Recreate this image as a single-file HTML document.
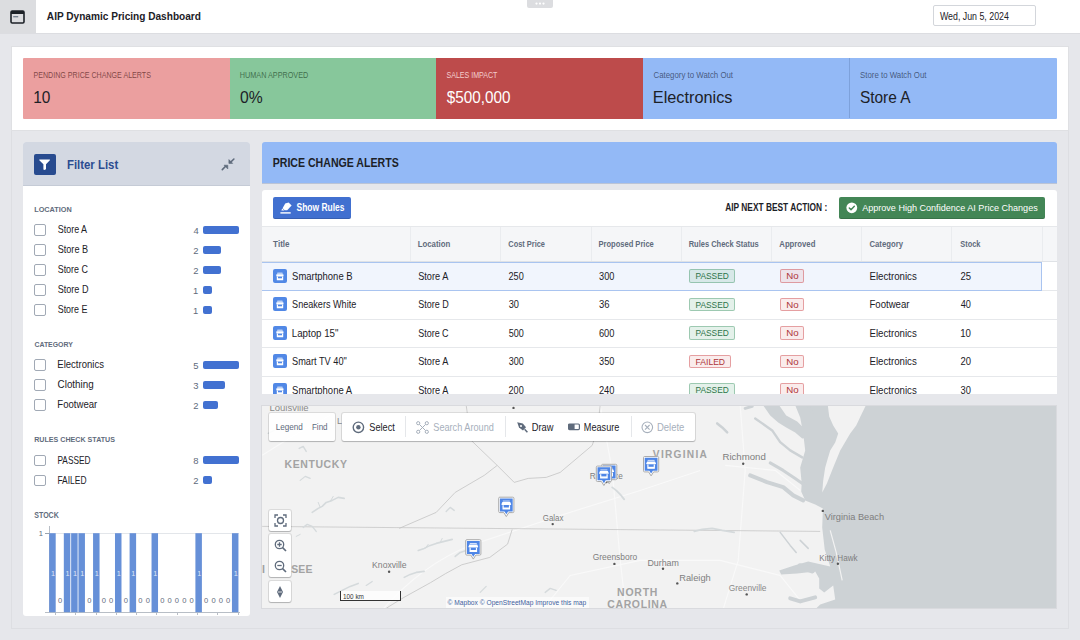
<!DOCTYPE html>
<html><head><meta charset="utf-8"><title>AIP Dynamic Pricing Dashboard</title><style>
*{margin:0;padding:0}
html,body{width:1080px;height:640px;overflow:hidden;background:#e6e7eb;font-family:"Liberation Sans",sans-serif;}
.r{position:absolute;}
svg{font-family:"Liberation Sans",sans-serif;}
svg.r{overflow:visible;}
</style></head><body>
<div class="r" style="left:0px;top:0px;width:1080.00px;height:33.50px;background:#fff;border-bottom:1px solid #dcdde1;box-sizing:border-box;"></div>
<div class="r" style="left:0px;top:0px;width:35.50px;height:33.00px;background:#dcdde0;"></div>
<svg class="r" style="left:10px;top:9.5px" width="15" height="14" viewBox="0 0 15 14"><rect x="1" y="1" width="13" height="12" rx="1.2" fill="none" stroke="#1c2127" stroke-width="1.6"/><rect x="1" y="1" width="13" height="3" fill="#1c2127"/><rect x="3.2" y="6.2" width="5" height="1.1" fill="#5f6b7c"/></svg>
<div class="r" style="left:527px;top:0px;width:26.00px;height:8.40px;background:#dcdde0;border-radius:0 0 2px 2px;"></div>
<svg class="r" style="left:527px;top:0px" width="26" height="8"><circle cx="9.5" cy="3.6" r="1.1" fill="#fff"/><circle cx="13" cy="3.6" r="1.1" fill="#fff"/><circle cx="16.5" cy="3.6" r="1.1" fill="#fff"/></svg>
<div class="r" style="left:932.5px;top:5.3px;width:103.10px;height:21.10px;background:#fff;border:1px solid #d3d6db;border-radius:2px;box-sizing:border-box;"></div>
<div class="r" style="left:11px;top:46px;width:1058.00px;height:85.00px;background:#fff;border:1px solid #dfe0e3;box-sizing:border-box;"></div>
<div class="r" style="left:23.3px;top:57.6px;width:206.30px;height:61.20px;background:#eb9f9f;border-radius:1px 0 0 1px;"></div>
<div class="r" style="left:229.6px;top:57.6px;width:206.40px;height:61.20px;background:#87c79b;"></div>
<div class="r" style="left:436px;top:57.6px;width:207.10px;height:61.20px;background:#bd4b4b;"></div>
<div class="r" style="left:643.1px;top:57.6px;width:206.50px;height:61.20px;background:#93b9f6;"></div>
<div class="r" style="left:849.6px;top:57.6px;width:207.40px;height:61.20px;background:#93b9f6;border-radius:0 1px 1px 0;"></div>
<div class="r" style="left:849.2px;top:57.6px;width:0.70px;height:60.90px;background:rgba(60,90,140,0.25);"></div>
<div class="r" style="left:11px;top:131px;width:1058.00px;height:498.00px;background:#e6e7eb;border:1px solid #dddee2;border-top:none;box-sizing:border-box;"></div>
<div class="r" style="left:23px;top:142.2px;width:227.30px;height:474.30px;background:#fff;border-radius:3px;"></div>
<div class="r" style="left:23px;top:142.2px;width:227.30px;height:44.10px;background:#d3d8e2;border-radius:3px 3px 0 0;border-bottom:1px solid #c5cbd6;box-sizing:border-box;"></div>
<div class="r" style="left:34.4px;top:153.8px;width:21.50px;height:21.20px;background:#284b8f;border-radius:2px;"></div>
<svg class="r" style="left:34.4px;top:153.8px" width="21.5" height="21.2" viewBox="0 0 21.5 21.2"><path d="M5.3 5.5 H15.9 V6.3 L12 10.3 V15.3 L10.3 16.1 Q9.4 15.7 9.4 15 V10.3 L5.3 6.3 Z" fill="#fff"/></svg>
<svg class="r" style="left:218px;top:154px" width="20" height="20" viewBox="0 0 20 20"><g fill="#5f6b7c" stroke="#5f6b7c" stroke-linejoin="round"><path d="M4.3 15.6 L7.6 12.3" stroke-width="1.6" stroke-linecap="round"/><path d="M6.0 11.2 H9.8 V15.0 Z" stroke-width="0.6"/><path d="M15.9 5.0 L12.6 8.3" stroke-width="1.6" stroke-linecap="round"/><path d="M10.9 5.6 V9.4 H14.7 Z" stroke-width="0.6"/></g></svg>
<div class="r" style="left:34.4px;top:224.4px;width:11.50px;height:11.30px;border:1px solid #a1a9b5;border-radius:2px;box-sizing:border-box;background:#fff;"></div>
<div class="r" style="left:203.4px;top:225.8px;width:35.30px;height:8.20px;background:#4271d1;border-radius:2px;"></div>
<div class="r" style="left:34.4px;top:244.4px;width:11.50px;height:11.30px;border:1px solid #a1a9b5;border-radius:2px;box-sizing:border-box;background:#fff;"></div>
<div class="r" style="left:203.4px;top:245.8px;width:17.65px;height:8.20px;background:#4271d1;border-radius:2px;"></div>
<div class="r" style="left:34.4px;top:264.4px;width:11.50px;height:11.30px;border:1px solid #a1a9b5;border-radius:2px;box-sizing:border-box;background:#fff;"></div>
<div class="r" style="left:203.4px;top:265.8px;width:17.65px;height:8.20px;background:#4271d1;border-radius:2px;"></div>
<div class="r" style="left:34.4px;top:284.4px;width:11.50px;height:11.30px;border:1px solid #a1a9b5;border-radius:2px;box-sizing:border-box;background:#fff;"></div>
<div class="r" style="left:203.4px;top:285.8px;width:8.82px;height:8.20px;background:#4271d1;border-radius:2px;"></div>
<div class="r" style="left:34.4px;top:304.4px;width:11.50px;height:11.30px;border:1px solid #a1a9b5;border-radius:2px;box-sizing:border-box;background:#fff;"></div>
<div class="r" style="left:203.4px;top:305.8px;width:8.82px;height:8.20px;background:#4271d1;border-radius:2px;"></div>
<div class="r" style="left:34.4px;top:359.4px;width:11.50px;height:11.30px;border:1px solid #a1a9b5;border-radius:2px;box-sizing:border-box;background:#fff;"></div>
<div class="r" style="left:203.4px;top:360.8px;width:35.30px;height:8.20px;background:#4271d1;border-radius:2px;"></div>
<div class="r" style="left:34.4px;top:379.4px;width:11.50px;height:11.30px;border:1px solid #a1a9b5;border-radius:2px;box-sizing:border-box;background:#fff;"></div>
<div class="r" style="left:203.4px;top:380.8px;width:21.18px;height:8.20px;background:#4271d1;border-radius:2px;"></div>
<div class="r" style="left:34.4px;top:399.4px;width:11.50px;height:11.30px;border:1px solid #a1a9b5;border-radius:2px;box-sizing:border-box;background:#fff;"></div>
<div class="r" style="left:203.4px;top:400.8px;width:14.12px;height:8.20px;background:#4271d1;border-radius:2px;"></div>
<div class="r" style="left:34.4px;top:454.8px;width:11.50px;height:11.30px;border:1px solid #a1a9b5;border-radius:2px;box-sizing:border-box;background:#fff;"></div>
<div class="r" style="left:203.4px;top:456.2px;width:35.30px;height:8.20px;background:#4271d1;border-radius:2px;"></div>
<div class="r" style="left:34.4px;top:474.8px;width:11.50px;height:11.30px;border:1px solid #a1a9b5;border-radius:2px;box-sizing:border-box;background:#fff;"></div>
<div class="r" style="left:203.4px;top:476.2px;width:8.82px;height:8.20px;background:#4271d1;border-radius:2px;"></div>
<div class="r" style="left:49.2px;top:533.2px;width:190.30px;height:0.70px;background:#e3e6ea;"></div>
<div class="r" style="left:45.3px;top:533.2px;width:3.90px;height:0.70px;background:#9aa3ae;"></div>
<div class="r" style="left:48.8px;top:525.6px;width:0.80px;height:87.00px;background:#b8bec6;"></div>
<div class="r" style="left:45px;top:612.1px;width:194.60px;height:0.80px;background:#b8bec6;"></div>
<svg class="r" style="left:0;top:0" width="260" height="640"><rect x="49.20" y="533.2" width="6.5" height="79" fill="#6690d8"/><rect x="63.82" y="533.2" width="6.5" height="79" fill="#6690d8"/><rect x="71.13" y="533.2" width="6.5" height="79" fill="#6690d8"/><rect x="78.44" y="533.2" width="6.5" height="79" fill="#6690d8"/><rect x="93.06" y="533.2" width="6.5" height="79" fill="#6690d8"/><rect x="114.99" y="533.2" width="6.5" height="79" fill="#6690d8"/><rect x="129.61" y="533.2" width="6.5" height="79" fill="#6690d8"/><rect x="151.54" y="533.2" width="6.5" height="79" fill="#6690d8"/><rect x="195.40" y="533.2" width="6.5" height="79" fill="#6690d8"/><rect x="231.95" y="533.2" width="6.5" height="79" fill="#6690d8"/></svg>
<div class="r" style="left:55.1px;top:612.6px;width:0.70px;height:2.90px;background:#b8bec6;"></div>
<div class="r" style="left:75.37px;top:612.6px;width:0.70px;height:2.90px;background:#b8bec6;"></div>
<div class="r" style="left:95.64px;top:612.6px;width:0.70px;height:2.90px;background:#b8bec6;"></div>
<div class="r" style="left:115.91px;top:612.6px;width:0.70px;height:2.90px;background:#b8bec6;"></div>
<div class="r" style="left:136.18px;top:612.6px;width:0.70px;height:2.90px;background:#b8bec6;"></div>
<div class="r" style="left:156.45px;top:612.6px;width:0.70px;height:2.90px;background:#b8bec6;"></div>
<div class="r" style="left:176.72px;top:612.6px;width:0.70px;height:2.90px;background:#b8bec6;"></div>
<div class="r" style="left:196.99px;top:612.6px;width:0.70px;height:2.90px;background:#b8bec6;"></div>
<div class="r" style="left:217.26px;top:612.6px;width:0.70px;height:2.90px;background:#b8bec6;"></div>
<div class="r" style="left:237.53px;top:612.6px;width:0.70px;height:2.90px;background:#b8bec6;"></div>
<div class="r" style="left:261.6px;top:142.2px;width:795.40px;height:40.60px;background:#93b9f6;border-radius:3px 3px 0 0;box-shadow:0 1px 0 rgba(60,90,150,0.25);"></div>
<div class="r" style="left:261.6px;top:190.3px;width:795.40px;height:203.45px;background:#fff;border-radius:3px 3px 0 0;"></div>
<div class="r" style="left:273.2px;top:197.2px;width:77.60px;height:21.60px;background:#4170d0;border-radius:2px;box-shadow:inset 0 -1px 0 rgba(0,0,0,0.15);"></div>
<svg class="r" style="left:279px;top:201px" width="14" height="14" viewBox="0 0 14 14"><path d="M6.2 2.6 L9.6 1.4 L12.6 4.4 L8.2 9.2 L5.6 9.2 L3.6 7.2 Z" fill="#fff"/><path d="M3.2 7.6 L5.4 9.6 L2.4 9.6 Z" fill="#fff"/><rect x="1.4" y="11.2" width="10.3" height="1.4" fill="#fff"/></svg>
<div class="r" style="left:838.5px;top:197.1px;width:206.30px;height:21.70px;background:#438656;border-radius:2px;box-shadow:inset 0 -1px 0 rgba(0,0,0,0.15);"></div>
<svg class="r" style="left:845.5px;top:202.2px" width="11.6" height="11.6" viewBox="0 0 12 12"><circle cx="6" cy="6" r="5.6" fill="#fff"/><path d="M3.4 6.2 L5.2 7.9 L8.6 4.4" fill="none" stroke="#438656" stroke-width="1.5" stroke-linecap="round" stroke-linejoin="round"/></svg>
<div class="r" style="left:261.6px;top:226.2px;width:795.40px;height:35.80px;background:#f5f6f8;border-top:1px solid #e6e8eb;border-bottom:1px solid #dfe2e6;box-sizing:border-box;"></div>
<div class="r" style="left:409.6px;top:227px;width:0;height:34px;border-left:1px solid #eaecef;"></div>
<div class="r" style="left:500px;top:227px;width:0;height:34px;border-left:1px solid #eaecef;"></div>
<div class="r" style="left:590.6px;top:227px;width:0;height:34px;border-left:1px solid #eaecef;"></div>
<div class="r" style="left:680.6px;top:227px;width:0;height:34px;border-left:1px solid #eaecef;"></div>
<div class="r" style="left:770.8px;top:227px;width:0;height:34px;border-left:1px solid #eaecef;"></div>
<div class="r" style="left:861px;top:227px;width:0;height:34px;border-left:1px solid #eaecef;"></div>
<div class="r" style="left:951.4px;top:227px;width:0;height:34px;border-left:1px solid #eaecef;"></div>
<div class="r" style="left:1041.5px;top:227px;width:0;height:34px;border-left:1px solid #eaecef;"></div>
<div class="r" style="left:261.6px;top:262px;width:795.4px;height:131.75px;overflow:hidden;">
<div class="r" style="left:0.00px;top:0.00px;width:780.40px;height:28.50px;background:#f1f5fd;border:1px solid #a9c4f0;border-left:none;box-sizing:border-box;"></div>
<div class="r" style="left:11.30px;top:6.80px;width:14.00px;height:14.10px;background:#5188e6;border-radius:2px;"></div>
<svg class="r" style="left:11.30px;top:6.80px" width="14" height="14" viewBox="0 0 14 14"><path d="M4.4 3.4 H9.4 L9.9 5.2 H3.9 Z" fill="#fff" opacity="0.6"/><rect x="3.3" y="5.2" width="7.2" height="2.2" rx="0.6" fill="#fff"/><path d="M4.4 7.4 V10.6 H9.6 V7.4" fill="none" stroke="#fff" stroke-width="1.2"/><rect x="4.4" y="9.3" width="5.2" height="1.4" fill="#fff"/></svg>
<div class="r" style="left:427.50px;top:7.40px;width:45.60px;height:13.40px;background:rgba(50,150,95,0.13);border:1px solid rgba(50,140,90,0.4);border-radius:2px;box-sizing:border-box;"></div>
<div class="r" style="left:518.00px;top:7.40px;width:24.70px;height:13.40px;background:rgba(205,66,70,0.1);border:1px solid rgba(205,66,70,0.45);border-radius:2px;box-sizing:border-box;"></div>
<div class="r" style="left:780.40px;top:28.00px;width:15.00px;height:1.00px;background:#e6e8eb;"></div>
<div class="r" style="left:11.30px;top:35.30px;width:14.00px;height:14.10px;background:#5188e6;border-radius:2px;"></div>
<svg class="r" style="left:11.30px;top:35.30px" width="14" height="14" viewBox="0 0 14 14"><path d="M4.4 3.4 H9.4 L9.9 5.2 H3.9 Z" fill="#fff" opacity="0.6"/><rect x="3.3" y="5.2" width="7.2" height="2.2" rx="0.6" fill="#fff"/><path d="M4.4 7.4 V10.6 H9.6 V7.4" fill="none" stroke="#fff" stroke-width="1.2"/><rect x="4.4" y="9.3" width="5.2" height="1.4" fill="#fff"/></svg>
<div class="r" style="left:427.50px;top:35.90px;width:45.60px;height:13.40px;background:rgba(50,150,95,0.13);border:1px solid rgba(50,140,90,0.4);border-radius:2px;box-sizing:border-box;"></div>
<div class="r" style="left:518.00px;top:35.90px;width:24.70px;height:13.40px;background:rgba(205,66,70,0.1);border:1px solid rgba(205,66,70,0.45);border-radius:2px;box-sizing:border-box;"></div>
<div class="r" style="left:0.00px;top:56.50px;width:795.40px;height:1.00px;background:#e6e8eb;"></div>
<div class="r" style="left:11.30px;top:63.80px;width:14.00px;height:14.10px;background:#5188e6;border-radius:2px;"></div>
<svg class="r" style="left:11.30px;top:63.80px" width="14" height="14" viewBox="0 0 14 14"><path d="M4.4 3.4 H9.4 L9.9 5.2 H3.9 Z" fill="#fff" opacity="0.6"/><rect x="3.3" y="5.2" width="7.2" height="2.2" rx="0.6" fill="#fff"/><path d="M4.4 7.4 V10.6 H9.6 V7.4" fill="none" stroke="#fff" stroke-width="1.2"/><rect x="4.4" y="9.3" width="5.2" height="1.4" fill="#fff"/></svg>
<div class="r" style="left:427.50px;top:64.40px;width:45.60px;height:13.40px;background:rgba(50,150,95,0.13);border:1px solid rgba(50,140,90,0.4);border-radius:2px;box-sizing:border-box;"></div>
<div class="r" style="left:518.00px;top:64.40px;width:24.70px;height:13.40px;background:rgba(205,66,70,0.1);border:1px solid rgba(205,66,70,0.45);border-radius:2px;box-sizing:border-box;"></div>
<div class="r" style="left:0.00px;top:85.00px;width:795.40px;height:1.00px;background:#e6e8eb;"></div>
<div class="r" style="left:11.30px;top:92.30px;width:14.00px;height:14.10px;background:#5188e6;border-radius:2px;"></div>
<svg class="r" style="left:11.30px;top:92.30px" width="14" height="14" viewBox="0 0 14 14"><path d="M4.4 3.4 H9.4 L9.9 5.2 H3.9 Z" fill="#fff" opacity="0.6"/><rect x="3.3" y="5.2" width="7.2" height="2.2" rx="0.6" fill="#fff"/><path d="M4.4 7.4 V10.6 H9.6 V7.4" fill="none" stroke="#fff" stroke-width="1.2"/><rect x="4.4" y="9.3" width="5.2" height="1.4" fill="#fff"/></svg>
<div class="r" style="left:427.50px;top:92.90px;width:42.00px;height:13.40px;background:rgba(205,66,70,0.1);border:1px solid rgba(205,66,70,0.45);border-radius:2px;box-sizing:border-box;"></div>
<div class="r" style="left:518.00px;top:92.90px;width:24.70px;height:13.40px;background:rgba(205,66,70,0.1);border:1px solid rgba(205,66,70,0.45);border-radius:2px;box-sizing:border-box;"></div>
<div class="r" style="left:0.00px;top:113.50px;width:795.40px;height:1.00px;background:#e6e8eb;"></div>
<div class="r" style="left:11.30px;top:120.80px;width:14.00px;height:14.10px;background:#5188e6;border-radius:2px;"></div>
<svg class="r" style="left:11.30px;top:120.80px" width="14" height="14" viewBox="0 0 14 14"><path d="M4.4 3.4 H9.4 L9.9 5.2 H3.9 Z" fill="#fff" opacity="0.6"/><rect x="3.3" y="5.2" width="7.2" height="2.2" rx="0.6" fill="#fff"/><path d="M4.4 7.4 V10.6 H9.6 V7.4" fill="none" stroke="#fff" stroke-width="1.2"/><rect x="4.4" y="9.3" width="5.2" height="1.4" fill="#fff"/></svg>
<div class="r" style="left:427.50px;top:121.40px;width:45.60px;height:13.40px;background:rgba(50,150,95,0.13);border:1px solid rgba(50,140,90,0.4);border-radius:2px;box-sizing:border-box;"></div>
<div class="r" style="left:518.00px;top:121.40px;width:24.70px;height:13.40px;background:rgba(205,66,70,0.1);border:1px solid rgba(205,66,70,0.45);border-radius:2px;box-sizing:border-box;"></div>
<svg class="r" style="left:0;top:0" width="795" height="132"><text x="30.07" y="17.80" font-size="10.03" fill="#1c2127" textLength="60.53" lengthAdjust="spacingAndGlyphs">Smartphone B</text><text x="156.19" y="17.80" font-size="10.03" fill="#1c2127" textLength="30.11" lengthAdjust="spacingAndGlyphs">Store A</text><text x="246.54" y="17.80" font-size="10.03" fill="#1c2127" textLength="15.21" lengthAdjust="spacingAndGlyphs">250</text><text x="337.08" y="17.80" font-size="10.03" fill="#1c2127" textLength="15.38" lengthAdjust="spacingAndGlyphs">300</text><text x="433.53" y="17.40" font-size="9.59" fill="#2d7449" textLength="33.27" lengthAdjust="spacingAndGlyphs">PASSED</text><text x="524.22" y="17.40" font-size="9.59" fill="#ad3539" textLength="12.40" lengthAdjust="spacingAndGlyphs">No</text><text x="607.43" y="17.80" font-size="10.03" fill="#1c2127" textLength="47.32" lengthAdjust="spacingAndGlyphs">Electronics</text><text x="698.42" y="17.80" font-size="10.03" fill="#1c2127" textLength="10.58" lengthAdjust="spacingAndGlyphs">25</text><text x="30.09" y="46.30" font-size="10.03" fill="#1c2127" textLength="64.16" lengthAdjust="spacingAndGlyphs">Sneakers White</text><text x="156.19" y="46.30" font-size="10.03" fill="#1c2127" textLength="30.51" lengthAdjust="spacingAndGlyphs">Store D</text><text x="246.68" y="46.30" font-size="10.03" fill="#1c2127" textLength="10.27" lengthAdjust="spacingAndGlyphs">30</text><text x="337.07" y="46.30" font-size="10.03" fill="#1c2127" textLength="10.53" lengthAdjust="spacingAndGlyphs">36</text><text x="433.53" y="45.90" font-size="9.59" fill="#2d7449" textLength="33.27" lengthAdjust="spacingAndGlyphs">PASSED</text><text x="524.22" y="45.90" font-size="9.59" fill="#ad3539" textLength="12.40" lengthAdjust="spacingAndGlyphs">No</text><text x="607.43" y="46.30" font-size="10.03" fill="#1c2127" textLength="40.10" lengthAdjust="spacingAndGlyphs">Footwear</text><text x="698.72" y="46.30" font-size="10.03" fill="#1c2127" textLength="10.23" lengthAdjust="spacingAndGlyphs">40</text><text x="29.72" y="74.80" font-size="10.03" fill="#1c2127" textLength="46.76" lengthAdjust="spacingAndGlyphs">Laptop 15&quot;</text><text x="156.20" y="74.80" font-size="10.03" fill="#1c2127" textLength="30.42" lengthAdjust="spacingAndGlyphs">Store C</text><text x="246.64" y="74.80" font-size="10.03" fill="#1c2127" textLength="15.11" lengthAdjust="spacingAndGlyphs">500</text><text x="336.93" y="74.80" font-size="10.03" fill="#1c2127" textLength="15.52" lengthAdjust="spacingAndGlyphs">600</text><text x="433.53" y="74.40" font-size="9.59" fill="#2d7449" textLength="33.27" lengthAdjust="spacingAndGlyphs">PASSED</text><text x="524.22" y="74.40" font-size="9.59" fill="#ad3539" textLength="12.40" lengthAdjust="spacingAndGlyphs">No</text><text x="607.43" y="74.80" font-size="10.03" fill="#1c2127" textLength="47.32" lengthAdjust="spacingAndGlyphs">Electronics</text><text x="698.17" y="74.80" font-size="10.03" fill="#1c2127" textLength="10.79" lengthAdjust="spacingAndGlyphs">10</text><text x="30.09" y="103.30" font-size="10.03" fill="#1c2127" textLength="54.68" lengthAdjust="spacingAndGlyphs">Smart TV 40&quot;</text><text x="156.19" y="103.30" font-size="10.03" fill="#1c2127" textLength="30.11" lengthAdjust="spacingAndGlyphs">Store A</text><text x="246.68" y="103.30" font-size="10.03" fill="#1c2127" textLength="15.06" lengthAdjust="spacingAndGlyphs">300</text><text x="337.08" y="103.30" font-size="10.03" fill="#1c2127" textLength="15.38" lengthAdjust="spacingAndGlyphs">350</text><text x="433.51" y="102.90" font-size="9.59" fill="#ad3539" textLength="29.58" lengthAdjust="spacingAndGlyphs">FAILED</text><text x="524.22" y="102.90" font-size="9.59" fill="#ad3539" textLength="12.40" lengthAdjust="spacingAndGlyphs">No</text><text x="607.43" y="103.30" font-size="10.03" fill="#1c2127" textLength="47.32" lengthAdjust="spacingAndGlyphs">Electronics</text><text x="698.43" y="103.30" font-size="10.03" fill="#1c2127" textLength="10.53" lengthAdjust="spacingAndGlyphs">20</text><text x="30.07" y="131.80" font-size="10.03" fill="#1c2127" textLength="60.05" lengthAdjust="spacingAndGlyphs">Smartphone A</text><text x="156.19" y="131.80" font-size="10.03" fill="#1c2127" textLength="30.11" lengthAdjust="spacingAndGlyphs">Store A</text><text x="246.54" y="131.80" font-size="10.03" fill="#1c2127" textLength="15.21" lengthAdjust="spacingAndGlyphs">200</text><text x="336.93" y="131.80" font-size="10.03" fill="#1c2127" textLength="15.52" lengthAdjust="spacingAndGlyphs">240</text><text x="433.53" y="131.40" font-size="9.59" fill="#2d7449" textLength="33.27" lengthAdjust="spacingAndGlyphs">PASSED</text><text x="524.22" y="131.40" font-size="9.59" fill="#ad3539" textLength="12.40" lengthAdjust="spacingAndGlyphs">No</text><text x="607.43" y="131.80" font-size="10.03" fill="#1c2127" textLength="47.32" lengthAdjust="spacingAndGlyphs">Electronics</text><text x="698.57" y="131.80" font-size="10.03" fill="#1c2127" textLength="10.37" lengthAdjust="spacingAndGlyphs">30</text></svg>
</div>
<div class="r" style="left:261.8px;top:405.6px;width:794.40px;height:202.60px;overflow:hidden;background:#f2f2f2;box-shadow:0 0 0 1px rgba(17,20,24,0.06);">
<svg width="794.40" height="202.60" style="position:absolute;left:0;top:0"><g transform="translate(-261.8,-405.6)"><path d="M380 612 Q420 565 470 545 L560 515 L640 490 L700 470" fill="none" stroke="#f9f9f9" stroke-width="1.1"/><path d="M540 612 L570 575 L640 560 L720 560 L780 575 L800 600" fill="none" stroke="#f9f9f9" stroke-width="1.1"/><path d="M600 405 L612 470 L620 560 L626 612" fill="none" stroke="#f9f9f9" stroke-width="1.1"/><path d="M740 405 L745 470 L738 560 L722 612" fill="none" stroke="#f9f9f9" stroke-width="1.1"/><path d="M725 465 L775 470 L800 490" fill="none" stroke="#f9f9f9" stroke-width="1.1"/><path d="M262 455 Q300 430 330 415" fill="none" stroke="#f9f9f9" stroke-width="1.1"/><path d="M262 526 L820 531" fill="none" stroke="#c6c6c6" stroke-width="0.8"/><path d="M399 528 L436 512 L455 492 L484 475 L497 465 L471 440 L466 405" fill="none" stroke="#c4c4c4" stroke-width="0.8"/><path d="M497 465 L514 482 L528 478 L546 477 L560 472 L592 445 L597 430 L600 405" fill="none" stroke="#c4c4c4" stroke-width="0.8"/><path d="M512 529 L507.4 543.7 L489.6 557 L461.5 564.4 L445.2 573.3 L430.4 582.2 L403.7 597 L389 606 L380 612" fill="none" stroke="#c4c4c4" stroke-width="0.8"/><path d="M312 512 L318 508 L322 506 L326 502 L332 500 L338 497 L344 498" fill="none" stroke="#d5dadc" stroke-width="1.6" stroke-linecap="round" stroke-linejoin="round"/><path d="M320 507 L318 502" fill="none" stroke="#d5dadc" stroke-width="1" stroke-linecap="round" stroke-linejoin="round"/><path d="M330 501 L333 496" fill="none" stroke="#d5dadc" stroke-width="1" stroke-linecap="round" stroke-linejoin="round"/><path d="M303 527 L307 524 L312 526 L316 531" fill="none" stroke="#d5dadc" stroke-width="1.4" stroke-linecap="round" stroke-linejoin="round"/><path d="M296 536 L300 534" fill="none" stroke="#d5dadc" stroke-width="1" stroke-linecap="round" stroke-linejoin="round"/><path d="M418 550 L424 548 L430 545 L436 543 L444 541 L452 539" fill="none" stroke="#d5dadc" stroke-width="1.6" stroke-linecap="round" stroke-linejoin="round"/><path d="M425 548 L428 544" fill="none" stroke="#d5dadc" stroke-width="1" stroke-linecap="round" stroke-linejoin="round"/><path d="M440 542 L442 538" fill="none" stroke="#d5dadc" stroke-width="1" stroke-linecap="round" stroke-linejoin="round"/><path d="M455 556 L460 552 L466 550 L472 549" fill="none" stroke="#d5dadc" stroke-width="1.6" stroke-linecap="round" stroke-linejoin="round"/><path d="M404 577 L410 574 L416 572 L424 571" fill="none" stroke="#d5dadc" stroke-width="1.6" stroke-linecap="round" stroke-linejoin="round"/><path d="M334 594 L342 590 L350 586 L358 583" fill="none" stroke="#d5dadc" stroke-width="1.6" stroke-linecap="round" stroke-linejoin="round"/><path d="M366 585 L372 581" fill="none" stroke="#d5dadc" stroke-width="1.2" stroke-linecap="round" stroke-linejoin="round"/><path d="M612 487 L616 490 L620 494 L624 499" fill="none" stroke="#d5dadc" stroke-width="1.8" stroke-linecap="round" stroke-linejoin="round"/><path d="M694 531 L702 529 L712 528 L722 530 L734 532" fill="none" stroke="#d5dadc" stroke-width="1.6" stroke-linecap="round" stroke-linejoin="round"/><path d="M299 448 L303 446 L306 451" fill="none" stroke="#d5dadc" stroke-width="1.4" stroke-linecap="round" stroke-linejoin="round"/><path d="M446 511 L450 507 L454 510" fill="none" stroke="#d5dadc" stroke-width="1.4" stroke-linecap="round" stroke-linejoin="round"/><path d="M268 433 L274 430" fill="none" stroke="#d5dadc" stroke-width="1.4" stroke-linecap="round" stroke-linejoin="round"/><path d="M300 480 L305 476 L310 478" fill="none" stroke="#d5dadc" stroke-width="1.2" stroke-linecap="round" stroke-linejoin="round"/><path d="M545 592 L550 588 L556 590" fill="none" stroke="#d5dadc" stroke-width="1.4" stroke-linecap="round" stroke-linejoin="round"/><path d="M480 592 L486 586" fill="none" stroke="#d5dadc" stroke-width="1.2" stroke-linecap="round" stroke-linejoin="round"/><path d="M1060 612 L812 612 L820 604 L835 599 L833 585 L824 592 L819 588 L819 578 L815 571 L797 573 L781 574 L779 570 L794 565 L808 561 L830 566 L824.5 549 L822 527 L822.7 508 L815 504 L805 500 L801 491 L801.5 483 L800 467 L805 450 L803 433 L800 417 L793 400 L827 400 L829 416 L833 425 L838 433 L835 442 L830 450 L827 460 L825 467 L823 480 L822 492 L826.7 483 L833 467 L840 450 L850 433 L856 425 L860 416.7 L868 400 L1060 400 Z" fill="#cdd2d5"/><path d="M763 405 L779 405 L786 415 L797 421 L804 428 L809 437 L802 438 L795 432 L786 427 L778 422 L770 415 Z" fill="#cdd2d5"/><path d="M755 418 L772 430 L780 441.7 L790 450 L802 457" fill="none" stroke="#cdd2d5" stroke-width="2.4" stroke-linecap="round" stroke-linejoin="round"/><path d="M770 462.5 L783 470 L795 478 L805 485" fill="none" stroke="#cdd2d5" stroke-width="3" stroke-linecap="round" stroke-linejoin="round"/><path d="M750 475 L766.7 481.7 L783 486.7 L793 495 L803 500" fill="none" stroke="#cdd2d5" stroke-width="4" stroke-linecap="round" stroke-linejoin="round"/><path d="M717 423 L722 427 L727 432" fill="none" stroke="#cdd2d5" stroke-width="2.5" stroke-linecap="round" stroke-linejoin="round"/><path d="M745 408 L752 406" fill="none" stroke="#cdd2d5" stroke-width="3" stroke-linecap="round" stroke-linejoin="round"/><path d="M800 566 L812 570" fill="none" stroke="#cdd2d5" stroke-width="6" stroke-linecap="round" stroke-linejoin="round"/><path d="M790 598 L800 601 L815 597" fill="none" stroke="#cdd2d5" stroke-width="4" stroke-linecap="round" stroke-linejoin="round"/><path d="M808 405 L812 412" fill="none" stroke="#cdd2d5" stroke-width="3" stroke-linecap="round" stroke-linejoin="round"/><path d="M780 532 L790 545 L796 552" fill="none" stroke="#cdd2d5" stroke-width="1.5" stroke-linecap="round" stroke-linejoin="round"/><path d="M800 540 L808 548" fill="none" stroke="#cdd2d5" stroke-width="1.5" stroke-linecap="round" stroke-linejoin="round"/><path d="M830 530 L836 552 L842 580" fill="none" stroke="#f2f2f2" stroke-width="1.2"/><circle cx="513.3" cy="407.5" r="1.2" fill="#555"/><circle cx="743" cy="463.4" r="1.2" fill="#555"/><circle cx="552.5" cy="523.7" r="1.2" fill="#555"/><circle cx="606.2" cy="481.7" r="1.2" fill="#555"/><circle cx="614.2" cy="563.5" r="1.2" fill="#555"/><circle cx="662.8" cy="568.3" r="1.2" fill="#555"/><circle cx="677.1" cy="583" r="1.2" fill="#555"/><circle cx="746.5" cy="594" r="1.2" fill="#555"/><circle cx="822.6" cy="510.5" r="1.2" fill="#555"/><circle cx="837.7" cy="563.3" r="1.2" fill="#555"/><circle cx="388.9" cy="571.3" r="1.2" fill="#555"/><text x="269.24" y="410.50" font-size="9.01" fill="#8a8a8a" textLength="39.18" lengthAdjust="spacingAndGlyphs">Louisville</text><text x="336.78" y="424.00" font-size="9.01" fill="#8a8a8a">L</text><text x="284.32" y="467.80" font-size="10.47" font-weight="700" fill="#a3a3a3" textLength="62.38" lengthAdjust="spacing">KENTUCKY</text><text x="652.65" y="457.50" font-size="10.17" font-weight="700" fill="#a3a3a3" textLength="54.00" lengthAdjust="spacing">VIRGINIA</text><text x="722.23" y="459.50" font-size="9.59" fill="#7e7e7e" textLength="43.37" lengthAdjust="spacingAndGlyphs">Richmond</text><text x="542.60" y="520.50" font-size="9.59" fill="#7e7e7e" textLength="20.69" lengthAdjust="spacingAndGlyphs">Galax</text><text x="589.64" y="478.50" font-size="9.30" fill="#7e7e7e" textLength="33.01" lengthAdjust="spacingAndGlyphs">Roanoke</text><text x="592.48" y="560.00" font-size="9.59" fill="#7e7e7e" textLength="44.57" lengthAdjust="spacingAndGlyphs">Greensboro</text><text x="647.19" y="565.20" font-size="9.59" fill="#7e7e7e" textLength="31.56" lengthAdjust="spacingAndGlyphs">Durham</text><text x="679.06" y="581.00" font-size="9.59" fill="#7e7e7e" textLength="31.51" lengthAdjust="spacingAndGlyphs">Raleigh</text><text x="728.58" y="591.00" font-size="9.01" fill="#8a8a8a" textLength="37.77" lengthAdjust="spacingAndGlyphs">Greenville</text><text x="616.92" y="595.70" font-size="10.47" font-weight="700" fill="#a3a3a3" textLength="40.28" lengthAdjust="spacing">NORTH</text><text x="607.08" y="607.70" font-size="10.47" font-weight="700" fill="#a3a3a3" textLength="59.77" lengthAdjust="spacing">CAROLINA</text><text x="824.55" y="520.00" font-size="9.59" fill="#7e7e7e" textLength="59.30" lengthAdjust="spacingAndGlyphs">Virginia Beach</text><text x="819.05" y="560.20" font-size="9.30" fill="#7e7e7e" textLength="38.33" lengthAdjust="spacingAndGlyphs">Kitty Hawk</text><text x="371.91" y="568.00" font-size="9.59" fill="#7e7e7e" textLength="34.45" lengthAdjust="spacingAndGlyphs">Knoxville</text><text x="261.82" y="572.50" font-size="10.47" font-weight="700" fill="#a0a0a0">I</text><text x="290.99" y="572.50" font-size="10.47" font-weight="700" fill="#a3a3a3" textLength="21.32" lengthAdjust="spacing">SEE</text><g transform="translate(498.00,496.30)"><path d="M1.6 0.5 H14.6 Q15.7 0.5 15.7 1.6 V14.8 Q15.7 15.9 14.6 15.9 H10.6 L8.1 19.9 L5.6 15.9 H1.6 Q0.5 15.9 0.5 14.8 V1.6 Q0.5 0.5 1.6 0.5 Z" fill="#fff" stroke="#ababab" stroke-width="1"/><path d="M1.7 1.7 H14.5 V14.7 H9.9 L8.1 17.6 L6.3 14.7 H1.7 Z" fill="#4f86e6"/><rect x="4.6" y="3.9" width="7" height="0.9" fill="#fff" opacity="0.85"/><path d="M4.2 5.4 H12 L13 7.6 Q13 8.2 12.3 8.2 H3.9 Q3.2 8.2 3.2 7.6 Z" fill="#fff"/><path d="M4.9 8.6 V12.2 H11.3 V8.6" fill="none" stroke="#fff" stroke-width="1.2"/><rect x="4.9" y="10.8" width="6.4" height="1.5" fill="#fff"/></g><g transform="translate(600.90,463.40)"><path d="M1.6 0.5 H14.6 Q15.7 0.5 15.7 1.6 V14.8 Q15.7 15.9 14.6 15.9 H10.6 L8.1 19.9 L5.6 15.9 H1.6 Q0.5 15.9 0.5 14.8 V1.6 Q0.5 0.5 1.6 0.5 Z" fill="#fff" stroke="#ababab" stroke-width="1"/><path d="M1.7 1.7 H14.5 V14.7 H9.9 L8.1 17.6 L6.3 14.7 H1.7 Z" fill="#4f86e6"/><rect x="4.6" y="3.9" width="7" height="0.9" fill="#fff" opacity="0.85"/><path d="M4.2 5.4 H12 L13 7.6 Q13 8.2 12.3 8.2 H3.9 Q3.2 8.2 3.2 7.6 Z" fill="#fff"/><path d="M4.9 8.6 V12.2 H11.3 V8.6" fill="none" stroke="#fff" stroke-width="1.2"/><rect x="4.9" y="10.8" width="6.4" height="1.5" fill="#fff"/></g><g transform="translate(595.60,465.20)"><path d="M1.6 0.5 H14.6 Q15.7 0.5 15.7 1.6 V14.8 Q15.7 15.9 14.6 15.9 H10.6 L8.1 19.9 L5.6 15.9 H1.6 Q0.5 15.9 0.5 14.8 V1.6 Q0.5 0.5 1.6 0.5 Z" fill="#fff" stroke="#ababab" stroke-width="1"/><path d="M1.7 1.7 H14.5 V14.7 H9.9 L8.1 17.6 L6.3 14.7 H1.7 Z" fill="#4f86e6"/><rect x="4.6" y="3.9" width="7" height="0.9" fill="#fff" opacity="0.85"/><path d="M4.2 5.4 H12 L13 7.6 Q13 8.2 12.3 8.2 H3.9 Q3.2 8.2 3.2 7.6 Z" fill="#fff"/><path d="M4.9 8.6 V12.2 H11.3 V8.6" fill="none" stroke="#fff" stroke-width="1.2"/><rect x="4.9" y="10.8" width="6.4" height="1.5" fill="#fff"/></g><g transform="translate(642.80,455.60)"><path d="M1.6 0.5 H14.6 Q15.7 0.5 15.7 1.6 V14.8 Q15.7 15.9 14.6 15.9 H10.6 L8.1 19.9 L5.6 15.9 H1.6 Q0.5 15.9 0.5 14.8 V1.6 Q0.5 0.5 1.6 0.5 Z" fill="#fff" stroke="#ababab" stroke-width="1"/><path d="M1.7 1.7 H14.5 V14.7 H9.9 L8.1 17.6 L6.3 14.7 H1.7 Z" fill="#4f86e6"/><rect x="4.6" y="3.9" width="7" height="0.9" fill="#fff" opacity="0.85"/><path d="M4.2 5.4 H12 L13 7.6 Q13 8.2 12.3 8.2 H3.9 Q3.2 8.2 3.2 7.6 Z" fill="#fff"/><path d="M4.9 8.6 V12.2 H11.3 V8.6" fill="none" stroke="#fff" stroke-width="1.2"/><rect x="4.9" y="10.8" width="6.4" height="1.5" fill="#fff"/></g><g transform="translate(465.00,538.80)"><path d="M1.6 0.5 H14.6 Q15.7 0.5 15.7 1.6 V14.8 Q15.7 15.9 14.6 15.9 H10.6 L8.1 19.9 L5.6 15.9 H1.6 Q0.5 15.9 0.5 14.8 V1.6 Q0.5 0.5 1.6 0.5 Z" fill="#fff" stroke="#ababab" stroke-width="1"/><path d="M1.7 1.7 H14.5 V14.7 H9.9 L8.1 17.6 L6.3 14.7 H1.7 Z" fill="#4f86e6"/><rect x="4.6" y="3.9" width="7" height="0.9" fill="#fff" opacity="0.85"/><path d="M4.2 5.4 H12 L13 7.6 Q13 8.2 12.3 8.2 H3.9 Q3.2 8.2 3.2 7.6 Z" fill="#fff"/><path d="M4.9 8.6 V12.2 H11.3 V8.6" fill="none" stroke="#fff" stroke-width="1.2"/><rect x="4.9" y="10.8" width="6.4" height="1.5" fill="#fff"/></g></g></svg>
</div>
<div class="r" style="left:269.1px;top:412.9px;width:65.90px;height:28.10px;background:rgba(255,255,255,0.9);border-radius:2px;box-shadow:0 0 0 1px rgba(17,20,24,0.1),0 1px 1px rgba(17,20,24,0.2);"></div>
<div class="r" style="left:342.25px;top:412.5px;width:352.55px;height:28.30px;background:#fff;border-radius:2px;box-shadow:0 0 0 1px rgba(17,20,24,0.1),0 1px 1px rgba(17,20,24,0.2);"></div>
<div class="r" style="left:405.3px;top:416px;width:0.70px;height:21.00px;background:#e5e7ea;"></div>
<div class="r" style="left:505px;top:416px;width:0.70px;height:21.00px;background:#e5e7ea;"></div>
<div class="r" style="left:630.6px;top:416px;width:0.70px;height:21.00px;background:#e5e7ea;"></div>
<svg class="r" style="left:352px;top:420.5px" width="13" height="13" viewBox="0 0 13 13"><circle cx="6.4" cy="6.3" r="5.2" fill="none" stroke="#5f6b7c" stroke-width="1.4"/><circle cx="6.4" cy="6.3" r="2.2" fill="#5f6b7c"/></svg>
<svg class="r" style="left:416px;top:420.5px" width="13" height="13" viewBox="0 0 13 13"><g fill="none" stroke="#a7b0bc" stroke-width="1"><circle cx="2.2" cy="2.2" r="1.6"/><circle cx="10.8" cy="2.2" r="1.6"/><circle cx="2.2" cy="10.8" r="1.6"/><circle cx="10.8" cy="10.8" r="1.6"/><path d="M3.4 3.4 L9.6 9.6 M9.6 3.4 L3.4 9.6"/></g></svg>
<svg class="r" style="left:515.5px;top:420.5px" width="13" height="13" viewBox="0 0 13 13"><path d="M1.2 1.2 L6.8 2.6 L10 6.2 L7 9.6 L3 6.6 Z" fill="#5f6b7c"/><path d="M8.6 8.2 L11.4 11.2" stroke="#5f6b7c" stroke-width="1.5"/><circle cx="5" cy="5" r="1" fill="#fff"/></svg>
<svg class="r" style="left:567.5px;top:422.5px" width="12" height="8" viewBox="0 0 12 8"><rect x="0.6" y="1" width="10.8" height="5.6" rx="1" fill="none" stroke="#5f6b7c" stroke-width="1.2"/><rect x="0.6" y="1" width="6" height="5.6" fill="#5f6b7c"/></svg>
<svg class="r" style="left:640.5px;top:420.5px" width="13" height="13" viewBox="0 0 13 13"><circle cx="6.3" cy="6.3" r="5.3" fill="none" stroke="#a7b0bc" stroke-width="1.1"/><path d="M4 4 L8.6 8.6 M8.6 4 L4 8.6" stroke="#a7b0bc" stroke-width="1.1"/></svg>
<div class="r" style="left:268.9px;top:509.5px;width:21.70px;height:21.80px;background:#fff;border-radius:2px;box-shadow:0 0 0 1px rgba(17,20,24,0.1),0 1px 1px rgba(17,20,24,0.2);"></div>
<div class="r" style="left:268.9px;top:534px;width:21.70px;height:42.80px;background:#fff;border-radius:2px;box-shadow:0 0 0 1px rgba(17,20,24,0.1),0 1px 1px rgba(17,20,24,0.2);"></div>
<div class="r" style="left:268.9px;top:580.8px;width:21.70px;height:20.90px;background:#fff;border-radius:2px;box-shadow:0 0 0 1px rgba(17,20,24,0.1),0 1px 1px rgba(17,20,24,0.2);"></div>
<svg class="r" style="left:273.5px;top:514px" width="13" height="13" viewBox="0 0 13 13"><g fill="none" stroke="#5f6b7c" stroke-width="1.3"><path d="M1 4 V1 H4 M9 1 H12 V4 M12 9 V12 H9 M4 12 H1 V9"/><circle cx="6.5" cy="6.5" r="3"/></g></svg>
<svg class="r" style="left:273.5px;top:538.5px" width="13" height="13" viewBox="0 0 13 13"><g fill="none" stroke="#5f6b7c" stroke-width="1.3"><circle cx="5.5" cy="5.5" r="4.2"/><path d="M8.6 8.6 L12 12" stroke-width="1.6"/><path d="M3.3 5.5 H7.7 M5.5 3.3 V7.7"/></g></svg>
<svg class="r" style="left:273.5px;top:560px" width="13" height="13" viewBox="0 0 13 13"><g fill="none" stroke="#5f6b7c" stroke-width="1.3"><circle cx="5.5" cy="5.5" r="4.2"/><path d="M8.6 8.6 L12 12" stroke-width="1.6"/><path d="M3.3 5.5 H7.7"/></g></svg>
<svg class="r" style="left:274px;top:584.5px" width="12" height="14" viewBox="0 0 12 14"><path d="M6 1 L9 7 L6 13 L3 7 Z" fill="#5f6b7c"/><path d="M4 7 H8" stroke="#fff" stroke-width="0.8"/></svg>
<div class="r" style="left:340px;top:591px;width:61.30px;height:9.60px;background:rgba(255,255,255,0.75);border:1.4px solid #333;border-top:none;box-sizing:border-box;"></div>
<div class="r" style="left:445.5px;top:597px;width:143.50px;height:10.50px;background:rgba(255,255,255,0.6);"></div>
<svg class="r" style="left:0;top:0" width="1080" height="640"><text x="46.85" y="20.00" font-size="11.48" font-weight="700" fill="#1c2127" textLength="154.10" lengthAdjust="spacingAndGlyphs">AIP Dynamic Pricing Dashboard</text>
<text x="939.96" y="20.00" font-size="10.03" fill="#1c2127" textLength="68.87" lengthAdjust="spacingAndGlyphs">Wed, Jun 5, 2024</text>
<text x="33.53" y="77.80" font-size="8.43" fill="rgba(92,40,40,0.75)" textLength="117.40" lengthAdjust="spacingAndGlyphs">PENDING PRICE CHANGE ALERTS</text>
<text x="33.14" y="103.10" font-size="15.99" fill="#1c2127" textLength="17.13" lengthAdjust="spacingAndGlyphs">10</text>
<text x="239.82" y="77.80" font-size="8.43" fill="rgba(40,80,50,0.75)" textLength="68.42" lengthAdjust="spacingAndGlyphs">HUMAN APPROVED</text>
<text x="239.97" y="103.10" font-size="15.99" fill="#1c2127" textLength="22.68" lengthAdjust="spacingAndGlyphs">0%</text>
<text x="446.48" y="77.80" font-size="8.43" fill="rgba(255,230,230,0.85)" textLength="50.97" lengthAdjust="spacingAndGlyphs">SALES IMPACT</text>
<text x="446.85" y="103.10" font-size="15.99" fill="#fff" textLength="63.70" lengthAdjust="spacingAndGlyphs">$500,000</text>
<text x="653.51" y="77.80" font-size="8.43" fill="rgba(50,65,95,0.8)" textLength="79.56" lengthAdjust="spacingAndGlyphs">Category to Watch Out</text>
<text x="652.80" y="103.10" font-size="16.57" fill="#1c2127" textLength="79.69" lengthAdjust="spacingAndGlyphs">Electronics</text>
<text x="860.05" y="77.80" font-size="8.43" fill="rgba(50,65,95,0.8)" textLength="66.40" lengthAdjust="spacingAndGlyphs">Store to Watch Out</text>
<text x="859.90" y="103.10" font-size="16.57" fill="#1c2127" textLength="50.69" lengthAdjust="spacingAndGlyphs">Store A</text>
<text x="66.96" y="168.90" font-size="12.94" font-weight="700" fill="#2b4c91" textLength="51.26" lengthAdjust="spacingAndGlyphs">Filter List</text>
<text x="34.23" y="211.75" font-size="7.99" font-weight="700" fill="#5f6b7c" textLength="37.57" lengthAdjust="spacingAndGlyphs">LOCATION</text>
<text x="57.70" y="233.40" font-size="10.17" fill="#1c2127" textLength="29.40" lengthAdjust="spacingAndGlyphs">Store A</text>
<text x="193.41" y="233.50" font-size="9.45" fill="#5f6b7c">4</text>
<text x="57.69" y="253.40" font-size="10.17" fill="#1c2127" textLength="30.37" lengthAdjust="spacingAndGlyphs">Store B</text>
<text x="193.13" y="253.50" font-size="9.45" fill="#5f6b7c">2</text>
<text x="57.70" y="273.40" font-size="10.17" fill="#1c2127" textLength="30.22" lengthAdjust="spacingAndGlyphs">Store C</text>
<text x="193.13" y="273.50" font-size="9.45" fill="#5f6b7c">2</text>
<text x="57.69" y="293.40" font-size="10.17" fill="#1c2127" textLength="30.82" lengthAdjust="spacingAndGlyphs">Store D</text>
<text x="192.89" y="293.50" font-size="9.45" fill="#5f6b7c">1</text>
<text x="57.70" y="313.40" font-size="10.17" fill="#1c2127" textLength="29.76" lengthAdjust="spacingAndGlyphs">Store E</text>
<text x="192.89" y="313.50" font-size="9.45" fill="#5f6b7c">1</text>
<text x="34.42" y="346.75" font-size="7.99" font-weight="700" fill="#5f6b7c" textLength="38.39" lengthAdjust="spacingAndGlyphs">CATEGORY</text>
<text x="57.34" y="368.40" font-size="10.17" fill="#1c2127" textLength="46.60" lengthAdjust="spacingAndGlyphs">Electronics</text>
<text x="193.22" y="368.50" font-size="9.45" fill="#5f6b7c">5</text>
<text x="57.61" y="388.40" font-size="10.17" fill="#1c2127" textLength="36.07" lengthAdjust="spacingAndGlyphs">Clothing</text>
<text x="193.27" y="388.50" font-size="9.45" fill="#5f6b7c">3</text>
<text x="57.33" y="408.40" font-size="10.17" fill="#1c2127" textLength="39.90" lengthAdjust="spacingAndGlyphs">Footwear</text>
<text x="193.13" y="408.50" font-size="9.45" fill="#5f6b7c">2</text>
<text x="34.24" y="442.15" font-size="7.99" font-weight="700" fill="#5f6b7c" textLength="80.73" lengthAdjust="spacingAndGlyphs">RULES CHECK STATUS</text>
<text x="57.44" y="463.80" font-size="10.17" fill="#1c2127" textLength="33.06" lengthAdjust="spacingAndGlyphs">PASSED</text>
<text x="193.22" y="463.90" font-size="9.45" fill="#5f6b7c">8</text>
<text x="57.43" y="483.80" font-size="10.17" fill="#1c2127" textLength="29.06" lengthAdjust="spacingAndGlyphs">FAILED</text>
<text x="193.13" y="483.90" font-size="9.45" fill="#5f6b7c">2</text>
<text x="34.29" y="517.90" font-size="8.28" font-weight="700" fill="#5f6b7c" textLength="24.50" lengthAdjust="spacingAndGlyphs">STOCK</text>
<text x="38.63" y="536.20" font-size="7.56" fill="#5f6b7c">1</text>
<text x="50.95" y="575.80" font-size="7.27" fill="rgba(255,255,255,0.8)">1</text>
<text x="57.91" y="603.20" font-size="7.56" fill="#5f6b7c">0</text>
<text x="65.57" y="575.80" font-size="7.27" fill="rgba(255,255,255,0.8)">1</text>
<text x="72.88" y="575.80" font-size="7.27" fill="rgba(255,255,255,0.8)">1</text>
<text x="80.19" y="575.80" font-size="7.27" fill="rgba(255,255,255,0.8)">1</text>
<text x="87.15" y="603.20" font-size="7.56" fill="#5f6b7c">0</text>
<text x="94.81" y="575.80" font-size="7.27" fill="rgba(255,255,255,0.8)">1</text>
<text x="101.77" y="603.20" font-size="7.56" fill="#5f6b7c">0</text>
<text x="109.08" y="603.20" font-size="7.56" fill="#5f6b7c">0</text>
<text x="116.74" y="575.80" font-size="7.27" fill="rgba(255,255,255,0.8)">1</text>
<text x="123.70" y="603.20" font-size="7.56" fill="#5f6b7c">0</text>
<text x="131.36" y="575.80" font-size="7.27" fill="rgba(255,255,255,0.8)">1</text>
<text x="138.32" y="603.20" font-size="7.56" fill="#5f6b7c">0</text>
<text x="145.63" y="603.20" font-size="7.56" fill="#5f6b7c">0</text>
<text x="153.29" y="575.80" font-size="7.27" fill="rgba(255,255,255,0.8)">1</text>
<text x="160.25" y="603.20" font-size="7.56" fill="#5f6b7c">0</text>
<text x="167.56" y="603.20" font-size="7.56" fill="#5f6b7c">0</text>
<text x="174.87" y="603.20" font-size="7.56" fill="#5f6b7c">0</text>
<text x="182.18" y="603.20" font-size="7.56" fill="#5f6b7c">0</text>
<text x="189.49" y="603.20" font-size="7.56" fill="#5f6b7c">0</text>
<text x="197.15" y="575.80" font-size="7.27" fill="rgba(255,255,255,0.8)">1</text>
<text x="204.11" y="603.20" font-size="7.56" fill="#5f6b7c">0</text>
<text x="211.42" y="603.20" font-size="7.56" fill="#5f6b7c">0</text>
<text x="218.73" y="603.20" font-size="7.56" fill="#5f6b7c">0</text>
<text x="226.04" y="603.20" font-size="7.56" fill="#5f6b7c">0</text>
<text x="233.70" y="575.80" font-size="7.27" fill="rgba(255,255,255,0.8)">1</text>
<text x="272.71" y="166.70" font-size="12.06" font-weight="700" fill="#1c2127" textLength="126.00" lengthAdjust="spacingAndGlyphs">PRICE CHANGE ALERTS</text>
<text x="296.55" y="211.00" font-size="10.03" font-weight="700" fill="#fff" textLength="47.81" lengthAdjust="spacingAndGlyphs">Show Rules</text>
<text x="725.29" y="211.20" font-size="10.03" font-weight="700" fill="#1c2127" textLength="101.89" lengthAdjust="spacingAndGlyphs">AIP NEXT BEST ACTION :</text>
<text x="862.20" y="211.00" font-size="9.59" fill="#fff" textLength="175.53" lengthAdjust="spacingAndGlyphs">Approve High Confidence AI Price Changes</text>
<text x="273.12" y="246.90" font-size="8.87" font-weight="700" fill="#5f6b7c" textLength="16.44" lengthAdjust="spacingAndGlyphs">Title</text>
<text x="417.69" y="246.90" font-size="8.87" font-weight="700" fill="#5f6b7c" textLength="32.59" lengthAdjust="spacingAndGlyphs">Location</text>
<text x="508.30" y="246.90" font-size="8.87" font-weight="700" fill="#5f6b7c" textLength="36.63" lengthAdjust="spacingAndGlyphs">Cost Price</text>
<text x="598.51" y="246.90" font-size="8.87" font-weight="700" fill="#5f6b7c" textLength="55.32" lengthAdjust="spacingAndGlyphs">Proposed Price</text>
<text x="688.71" y="246.90" font-size="8.87" font-weight="700" fill="#5f6b7c" textLength="70.00" lengthAdjust="spacingAndGlyphs">Rules Check Status</text>
<text x="779.31" y="246.90" font-size="8.87" font-weight="700" fill="#5f6b7c" textLength="36.11" lengthAdjust="spacingAndGlyphs">Approved</text>
<text x="869.49" y="246.90" font-size="8.87" font-weight="700" fill="#5f6b7c" textLength="33.44" lengthAdjust="spacingAndGlyphs">Category</text>
<text x="960.28" y="246.90" font-size="8.87" font-weight="700" fill="#5f6b7c" textLength="20.15" lengthAdjust="spacingAndGlyphs">Stock</text>
<text x="275.65" y="429.50" font-size="9.16" fill="#5f6b7c" textLength="27.16" lengthAdjust="spacingAndGlyphs">Legend</text>
<text x="311.96" y="429.50" font-size="9.16" fill="#5f6b7c" textLength="15.63" lengthAdjust="spacingAndGlyphs">Find</text>
<text x="369.29" y="430.50" font-size="10.17" fill="#1c2127" textLength="25.50" lengthAdjust="spacingAndGlyphs">Select</text>
<text x="433.29" y="430.50" font-size="10.17" fill="#a7b0bc" textLength="60.57" lengthAdjust="spacingAndGlyphs">Search Around</text>
<text x="531.75" y="430.50" font-size="10.17" fill="#1c2127" textLength="21.73" lengthAdjust="spacingAndGlyphs">Draw</text>
<text x="583.87" y="430.50" font-size="10.17" fill="#1c2127" textLength="35.50" lengthAdjust="spacingAndGlyphs">Measure</text>
<text x="656.94" y="430.50" font-size="10.17" fill="#a7b0bc" textLength="27.45" lengthAdjust="spacingAndGlyphs">Delete</text>
<text x="343.02" y="598.50" font-size="6.69" fill="#333" textLength="20.89" lengthAdjust="spacingAndGlyphs">100 km</text>
<text x="447.50" y="604.60" font-size="7.12" fill="#3f5f9e" textLength="138.68" lengthAdjust="spacingAndGlyphs">© Mapbox © OpenStreetMap Improve this map</text></svg>
</body></html>
